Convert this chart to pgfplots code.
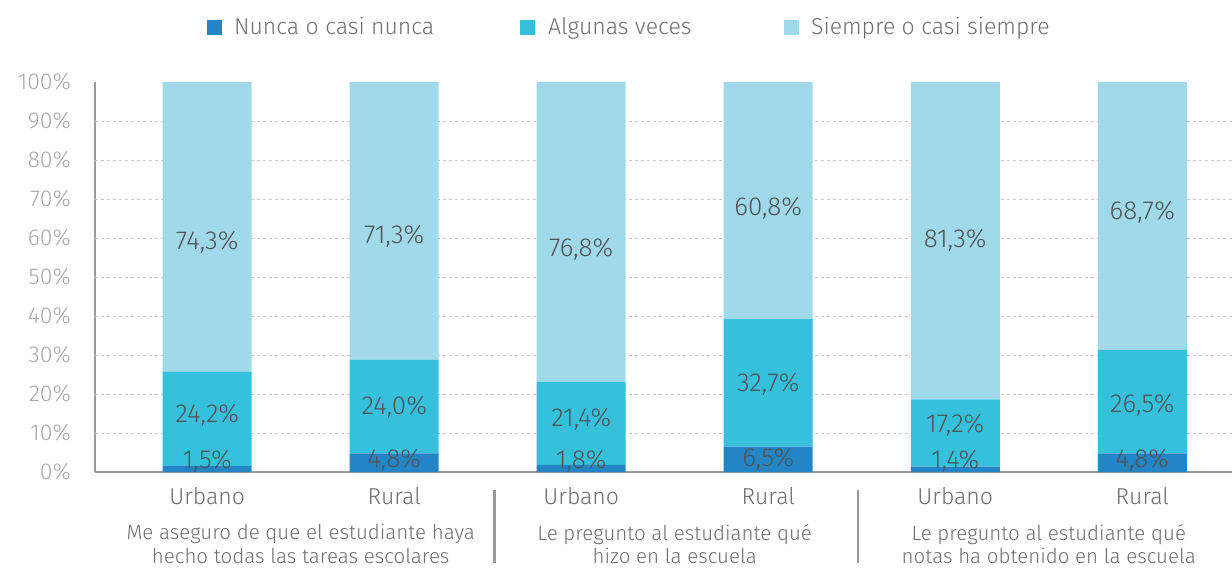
\documentclass[border=0pt]{standalone}
\usepackage{pgfplots}
\pgfplotsset{compat=1.18}
\usepackage{fontspec}
\setmainfont{Fira Sans}[UprightFont={* Light}]
\definecolor{cA}{HTML}{2385C6}
\definecolor{cB}{HTML}{35C0DC}
\definecolor{cC}{HTML}{A0DAEA}
\definecolor{axisgray}{HTML}{9A9A9C}
\definecolor{gridgray}{HTML}{C8C8C8}
\definecolor{tickgray}{HTML}{A8A8A8}
\definecolor{labgray}{HTML}{6E6E70}
\definecolor{dgray}{HTML}{525254}
\pgfplotsset{/pgf/number format/assume math mode=true}
\begin{document}
\begin{tikzpicture}[x=1pt,y=1pt]
\useasboundingbox (-95,-96) rectangle (1137,472);
\begin{axis}[
  at={(0,0)}, anchor=south west,
  width=1137pt, height=390pt, scale only axis,
  xmin=-0.6, xmax=5.48, ymin=0, ymax=100,
  ybar stacked, bar width=89pt,
  axis x line*=bottom, axis y line*=left,
  axis line style={draw=axisgray, line width=2.5pt},
  ytick={0,10,...,100},
  yticklabel={\pgfmathprintnumber{\tick}\%},
  yticklabel style={font=\fontsize{23}{23}\selectfont, text=tickgray, inner sep=0pt, xshift=-24pt},
  major tick length=0pt,
  xtick={0,...,5}, xticklabels={Urbano,Rural,Urbano,Rural,Urbano,Rural},
  xticklabel style={font=\fontsize{23}{23}\selectfont, text=labgray, anchor=north, inner sep=0pt, yshift=-15pt},
  extra y ticks={10,20,...,90}, extra y tick labels={},
  extra y tick style={ymajorgrids=true, major grid style={dashed, gridgray, line width=0.8pt}},
  clip=false,
  legend style={draw=none, fill=none, at={(0.0985,1.141)}, anchor=west, legend columns=3,
    column sep=0pt, inner sep=0pt, nodes={inner sep=0pt}, font=\fontsize{23}{23}\selectfont, text=labgray},
  legend image code/.code={\path[#1,draw=none] (0pt,-7.5pt) rectangle (15pt,7.5pt);},
]
\addplot[fill=cA, draw=none] coordinates {(0,1.5) (1,4.8) (2,1.8) (3,6.5) (4,1.4) (5,4.8)};
\addlegendentry{\hspace*{12pt}\makebox[286pt][l]{Nunca o casi nunca}}
\addplot[fill=cB, draw=none] coordinates {(0,24.2) (1,24.0) (2,21.4) (3,32.7) (4,17.2) (5,26.5)};
\addlegendentry{\hspace*{13pt}\makebox[236pt][l]{Algunas veces}}
\addplot[fill=cC, draw=none] coordinates {(0,74.3) (1,71.2) (2,76.8) (3,60.8) (4,81.4) (5,68.7)};
\addlegendentry{\hspace*{12pt}Siempre o casi siempre}
\foreach \g/\t in {0.5/{Me aseguro de que el estudiante haya\\hecho todas las tareas escolares},
                   2.5/{Le pregunto al estudiante qué\\hizo en la escuela},
                   4.5/{Le pregunto al estudiante qué\\notas ha obtenido en la escuela}}{
  \edef\temp{\noexpand\node[anchor=north, align=center, inner sep=0pt, text=labgray,
     font=\noexpand\fontsize{20.5}{23.5}\noexpand\selectfont] at (axis cs:\g,0) [yshift=-52pt] {\unexpanded\expandafter{\t}};}
  \temp
}
\draw[axisgray, line width=2.5pt] (axis cs:1.535,0) ++(0pt,-18pt) -- ++(0pt,-73pt);
\draw[axisgray, line width=2.5pt] (axis cs:3.48,0) ++(0pt,-18pt) -- ++(0pt,-73pt);
\end{axis}
\begin{axis}[
  at={(0,0)}, anchor=south west,
  width=1137pt, height=390pt, scale only axis,
  xmin=-0.6, xmax=5.48, ymin=0, ymax=100,
  hide axis, clip=false,
  nodes near coords, point meta=explicit symbolic,
  every node near coord/.append style={anchor=center, font=\fontsize{26}{26}\selectfont, text=dgray, inner sep=0pt},
]
\addplot[draw=none, mark=none] coordinates {
 (0,2.8) [1,5\%] (1,2.9) [4,8\%] (2,2.8) [1,8\%] (3,3.3) [6,5\%] (4,2.8) [1,4\%] (5,2.9) [4,8\%]};
\addplot[draw=none, mark=none] coordinates {
 (0,14.5) [24,2\%] (1,16.5) [24,0\%] (2,13.5) [21,4\%] (3,22.4) [32,7\%] (4,12) [17,2\%] (5,17) [26,5\%]};
\addplot[draw=none, mark=none] coordinates {
 (0,59) [74,3\%] (1,60.5) [71,3\%] (2,57) [76,8\%] (3,67.7) [60,8\%] (4,59.5) [81,3\%] (5,66.7) [68,7\%]};
\end{axis}
\end{tikzpicture}
\end{document}
